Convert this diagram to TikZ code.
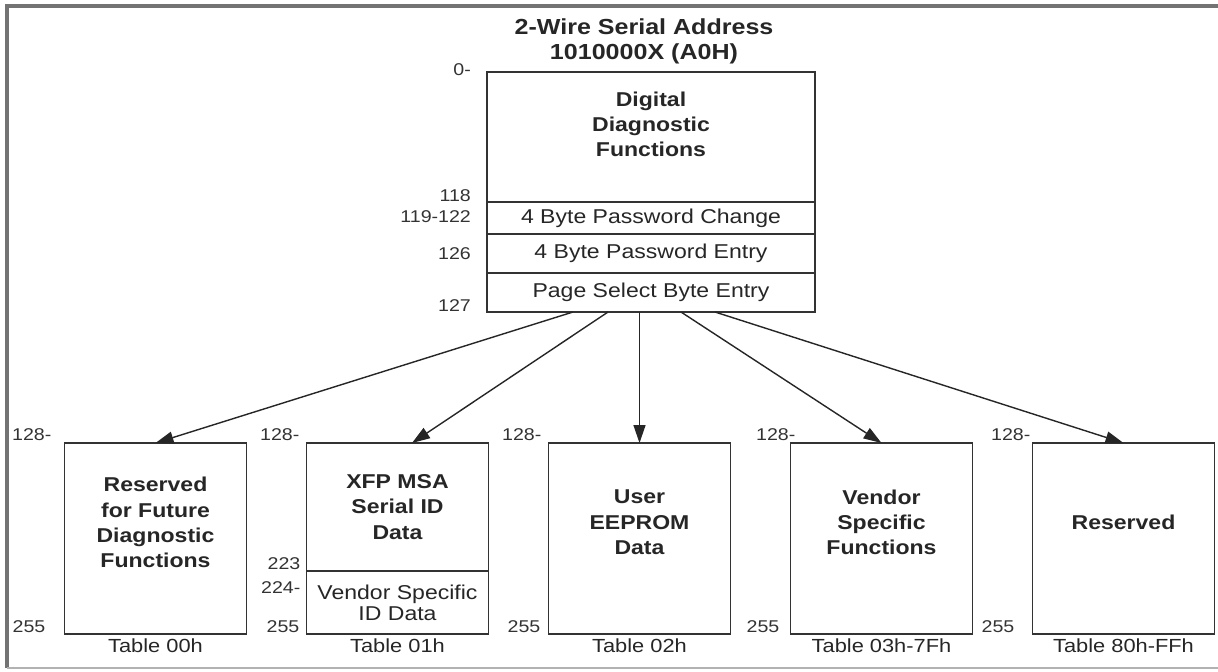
\documentclass[tikz,border=0pt]{standalone}
\usepackage{fontspec}
\setmainfont{Liberation Sans}[FakeStretch=1.15]
\usepackage{tikz}
\usetikzlibrary{arrows.meta,positioning,calc}
\tikzset{
  membox/.style={draw=black!80, line width=1.1pt, outer sep=0pt, inner sep=0pt, minimum width=3.64cm},
  boldtxt/.style={font=\fontsize{11.4}{14.4}\selectfont\bfseries, text=black!85, align=center},
  regtxt/.style={font=\fontsize{11.4}{11.8}\selectfont, text=black!85, align=center},
  addr/.style={font=\fontsize{9.7}{11}\selectfont, text=black!80, inner sep=1pt},
  tablab/.style={font=\fontsize{10.8}{12}\selectfont, text=black!85, inner sep=1pt},
  title/.style={font=\fontsize{12.4}{14.4}\selectfont\bfseries, text=black!85, align=center},
  arrow/.style={-{Triangle[length=0.36cm,width=0.24cm]}, line width=0.8pt, draw=black!85},
  frame/.style={draw=black!55, line width=2pt},
}
\begin{document}
\begin{tikzpicture}[node distance=1.2cm]
\useasboundingbox (0,0) rectangle (24.36,-13.42);
\draw[frame] (0.14,-13.36) -- (0.14,-0.12) -- (24.36,-0.12);
\draw[draw=black!30, line width=0.8pt] (0.14,-13.36) -- (24.36,-13.36);

\node[membox, minimum width=6.56cm, minimum height=2.6cm, anchor=north] (ddf) at (13.02,-1.44) {};
\node[boldtxt, below=0.27cm of ddf.north] (ddft) {Digital\\Diagnostic\\Functions};
\node[membox, regtxt, minimum width=6.56cm, minimum height=0.64cm, below=0pt of ddf] (pwc) {4 Byte Password Change};
\node[membox, regtxt, minimum width=6.56cm, minimum height=0.78cm, below=0pt of pwc] (pwe) {4 Byte Password Entry};
\node[membox, regtxt, minimum width=6.56cm, minimum height=0.78cm, below=0pt of pwe] (psb) {Page Select Byte Entry};
\node[title, above=0.03cm of ddf, xshift=-0.14cm] (addr) {2-Wire Serial Address\\1010000X (A0H)};

\node[addr, left=0.28cm of ddf.north west, yshift=0.04cm] (a0) {0-};
\node[addr, left=0.28cm of ddf.south west, yshift=0.12cm] (a118) {118};
\node[addr, left=0.28cm of pwc, yshift=0.02cm] (a119) {119-122};
\node[addr, left=0.28cm of pwe] (a126) {126};
\node[addr, left=0.28cm of psb.south west, yshift=0.12cm] (a127) {127};

\node[membox, minimum height=3.82cm] (rffd) at (3.11,-10.77) {};
\node[boldtxt, yshift=0.32cm] (rffdt) at (rffd) {Reserved\\for Future\\Diagnostic\\Functions};
\node[membox, boldtxt, minimum height=2.56cm, right=1.2cm of rffd.north east, anchor=north west] (xfp) {XFP MSA\\Serial ID\\Data};
\node[membox, regtxt, minimum height=1.26cm, below=0pt of xfp] (vsid) {Vendor Specific\\ID Data};
\node[membox, minimum height=3.82cm, right=1.2cm of xfp.north east, anchor=north west] (ueep) {};
\node[boldtxt, yshift=0.32cm] (ueept) at (ueep) {User\\EEPROM\\Data};
\node[membox, minimum height=3.82cm, right=of ueep] (vsf) {};
\node[boldtxt, yshift=0.32cm] (vsft) at (vsf) {Vendor\\Specific\\Functions};
\node[membox, minimum height=3.82cm, right=of vsf] (rsv) {};
\node[boldtxt, yshift=0.32cm] (rsvt) at (rsv) {Reserved};

\node[addr, left=0.22cm of rffd.north west, yshift=0.16cm] (b128) {128-};
\node[addr, left=0.10cm of xfp.north west, yshift=0.16cm] (c128) {128-};
\node[addr, left=0.10cm of ueep.north west, yshift=0.16cm] (d128) {128-};
\node[addr, left=-0.14cm of vsf.north west, yshift=0.16cm] (e128) {128-};
\node[addr, left=0.0cm of rsv.north west, yshift=0.16cm] (f128) {128-};
\node[addr, left=0.34cm of rffd.south west, yshift=0.14cm] (b255) {255};
\node[addr, left=0.10cm of vsid.south west, yshift=0.14cm] (c255) {255};
\node[addr, left=0.12cm of ueep.south west, yshift=0.14cm] (d255) {255};
\node[addr, left=0.18cm of vsf.south west, yshift=0.14cm] (e255) {255};
\node[addr, left=0.32cm of rsv.south west, yshift=0.14cm] (f255) {255};
\node[addr, left=0.08cm of xfp.south west, yshift=0.14cm] (c223) {223};
\node[addr, left=0.08cm of xfp.south west, yshift=-0.34cm] (c224) {224-};

\node[tablab, below=0.06cm of rffd] (t00) {Table 00h};
\node[tablab, below=0.06cm of vsid] (t01) {Table 01h};
\node[tablab, below=0.06cm of ueep] (t02) {Table 02h};
\node[tablab, below=0.06cm of vsf] (t03) {Table 03h-7Fh};
\node[tablab, below=0.06cm of rsv] (t80) {Table 80h-FFh};

\draw[arrow] ([xshift=-1.56cm]psb.south) -- (rffd.north);
\draw[arrow] ([xshift=-0.86cm]psb.south) -- ([xshift=0.29cm]xfp.north);
\draw[arrow] (psb.south -| ueep.north) -- (ueep.north);
\draw[arrow] ([xshift=0.6cm]psb.south) -- (vsf.north);
\draw[arrow] ([xshift=1.28cm]psb.south) -- (rsv.north);
\end{tikzpicture}
\end{document}
